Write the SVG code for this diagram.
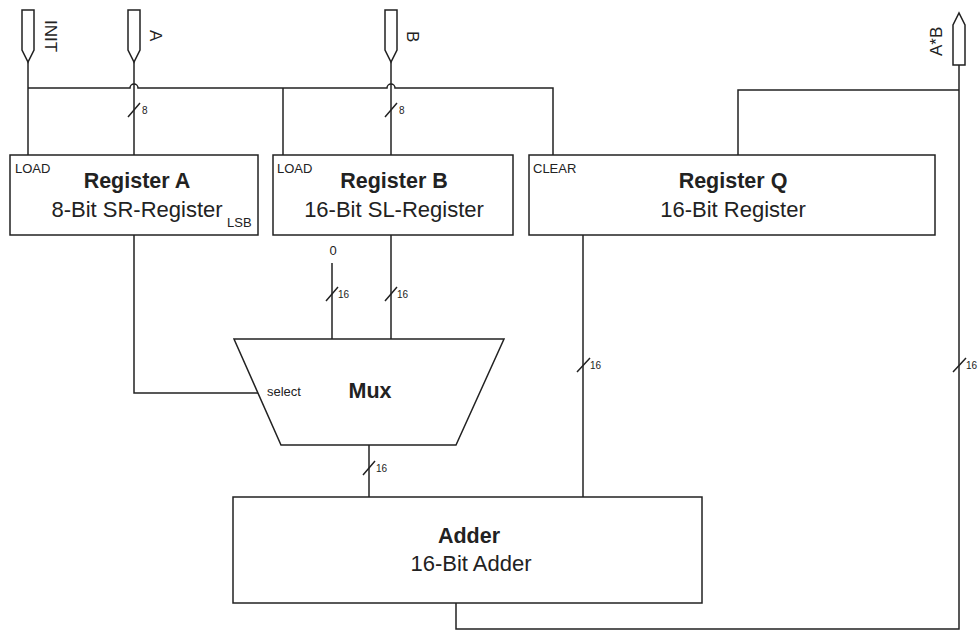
<svg xmlns="http://www.w3.org/2000/svg" width="978" height="630" viewBox="0 0 978 630">
<style>
  .ln{fill:none;stroke:#222;stroke-width:1.5}
  .box{fill:#fff;stroke:#222;stroke-width:1.5}
  .t{font-family:"Liberation Sans",Arial,sans-serif;fill:#222}
  .title{font-size:21.5px;font-weight:bold;text-anchor:middle}
  .sub{font-size:22px;text-anchor:middle}
  .sm{font-size:13px}
  .w{font-size:10px}
  .pin{font-size:17px}
</style>
<rect width="978" height="630" fill="#fff"/>
<g id="connectors" class="ln">
  <path d="M28,62 V155"/>
  <path d="M28,88 H130 A4,4 0 0 1 138,88 H387 A4,4 0 0 1 395,88 H553 V155"/>
  <path d="M283,88 V155"/>
  <path d="M134,62 V155"/>
  <path d="M391,62 V155"/>
  <path d="M959,65 V629 H456 V603"/>
  <path d="M959,90 H738 V155"/>
  <path d="M134,235 V393 H258"/>
  <path d="M332,263 V339"/>
  <path d="M391,235 V339"/>
  <path d="M583,235 V497"/>
  <path d="M369,445 V497"/>
  <path d="M128,117 L140,103 M385,117 L397,103 M326,301 L338,287 M385,301 L397,287 M577,372 L590,358 M953,372 L966,358 M363,475 L375,461"/>
</g>
<g class="t w">
  <text x="142" y="114">8</text>
  <text x="399" y="114">8</text>
  <text x="338" y="298">16</text>
  <text x="397" y="298">16</text>
  <text x="590" y="369">16</text>
  <text x="966" y="369">16</text>
  <text x="376" y="472">16</text>
</g>
<g id="pin-init">
  <path class="box" d="M22,10 H34 V50 L28,62 L22,50 Z"/>
  <text class="t pin" transform="translate(45,20) rotate(90)">INIT</text>
</g>
<g id="pin-a">
  <path class="box" d="M128,10 H140 V50 L134,62 L128,50 Z"/>
  <text class="t pin" transform="translate(150,30) rotate(90)">A</text>
</g>
<g id="pin-b">
  <path class="box" d="M385,10 H397 V50 L391,62 L385,50 Z"/>
  <text class="t pin" transform="translate(407,31) rotate(90)">B</text>
</g>
<g id="pin-ab">
  <path class="box" d="M953,65 V25 L959,13 L965,25 V65 Z"/>
  <text class="t pin" transform="translate(942,56) rotate(-90)">A*B</text>
</g>
<g id="register-a">
  <rect class="box" x="10" y="155" width="248" height="80"/>
  <text class="t sm" x="15" y="173">LOAD</text>
  <text class="t title" x="137" y="188">Register A</text>
  <text class="t sub" x="137" y="217">8-Bit SR-Register</text>
  <text class="t sm" x="227" y="227">LSB</text>
</g>
<g id="register-b">
  <rect class="box" x="273" y="155" width="240" height="80"/>
  <text class="t sm" x="277" y="173">LOAD</text>
  <text class="t title" x="394" y="188">Register B</text>
  <text class="t sub" x="394" y="217">16-Bit SL-Register</text>
</g>
<g id="register-q">
  <rect class="box" x="529" y="155" width="406" height="80"/>
  <text class="t sm" x="533" y="173">CLEAR</text>
  <text class="t title" x="733" y="188">Register Q</text>
  <text class="t sub" x="733" y="217">16-Bit Register</text>
</g>
<g id="const-0">
  <text class="t sm" x="333" y="255" text-anchor="middle">0</text>
</g>
<g id="mux">
  <path class="box" d="M234,339 H504 L456,445 H281 Z"/>
  <text class="t sm" x="267" y="396">select</text>
  <text class="t title" x="370" y="398">Mux</text>
</g>
<g id="adder">
  <rect class="box" x="233" y="497" width="469" height="106"/>
  <text class="t title" x="469" y="543">Adder</text>
  <text class="t sub" x="471" y="571">16-Bit Adder</text>
</g>
</svg>
